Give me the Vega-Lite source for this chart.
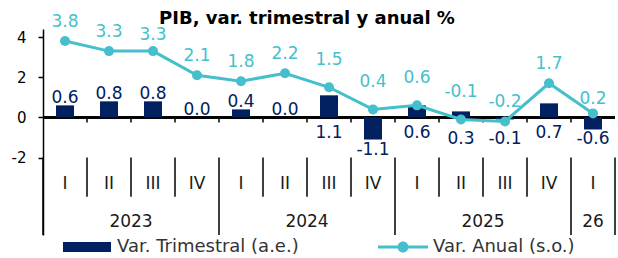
{
  "$schema": "https://vega.github.io/schema/vega-lite/v6.json",
  "width": 572,
  "height": 206,
  "autosize": {"type": "none"},
  "padding": {"left": 43, "top": 29, "right": 3, "bottom": 23},
  "title": {"text": "PIB, var. trimestral y anual %", "anchor": "middle", "frame": "group", "dx": -22, "offset": -29, "baseline": "alphabetic", "fontSize": 18, "fontWeight": "bold", "font": "DejaVu Sans", "color": "#000"},
  "config": {
    "view": {"stroke": null},
    "font": "DejaVu Sans",
    "locale": {"number": {"decimal": ".", "thousands": ",", "grouping": [3], "currency": ["$", ""], "minus": "-"}}
  },
  "resolve": {"axis": {"y": "independent"}},
  "data": {"values": [
    {"periodo": "2023-I", "anio": "2023", "q": "I", "trim": 0.6, "anual": 3.8},
    {"periodo": "2023-II", "anio": "2023", "q": "II", "trim": 0.8, "anual": 3.3},
    {"periodo": "2023-III", "anio": "2023", "q": "III", "trim": 0.8, "anual": 3.3},
    {"periodo": "2023-IV", "anio": "2023", "q": "IV", "trim": 0.0, "anual": 2.1},
    {"periodo": "2024-I", "anio": "2024", "q": "I", "trim": 0.4, "anual": 1.8},
    {"periodo": "2024-II", "anio": "2024", "q": "II", "trim": 0.0, "anual": 2.2},
    {"periodo": "2024-III", "anio": "2024", "q": "III", "trim": 1.1, "anual": 1.5},
    {"periodo": "2024-IV", "anio": "2024", "q": "IV", "trim": -1.1, "anual": 0.4},
    {"periodo": "2025-I", "anio": "2025", "q": "I", "trim": 0.6, "anual": 0.6},
    {"periodo": "2025-II", "anio": "2025", "q": "II", "trim": 0.3, "anual": -0.1},
    {"periodo": "2025-III", "anio": "2025", "q": "III", "trim": -0.1, "anual": -0.2},
    {"periodo": "2025-IV", "anio": "2025", "q": "IV", "trim": 0.7, "anual": 1.7},
    {"periodo": "2026-I", "anio": "26", "q": "I", "trim": -0.6, "anual": 0.2}
  ]},
  "layer": [
    {
      "mark": {"type": "rule", "color": "#000", "strokeWidth": 1.5},
      "encoding": {"y": {"datum": 0, "type": "quantitative", "axis": null, "scale": {"domain": [-5.85, 4.4], "nice": false, "zero": false}}}
    },
    {
      "transform": [{"filter": "datum.periodo != '2023-I'"}],
      "mark": {"type": "rule", "color": "#000", "strokeWidth": 1.5},
      "encoding": {
        "x": {"field": "periodo", "type": "ordinal", "bandPosition": 0, "axis": null, "scale": {"domain": ["2023-I","2023-II","2023-III","2023-IV","2024-I","2024-II","2024-III","2024-IV","2025-I","2025-II","2025-III","2025-IV","2026-I"], "paddingInner": 0, "paddingOuter": 0}},
        "y": {"datum": 0, "type": "quantitative", "axis": null, "scale": {"domain": [-5.85, 4.4], "nice": false, "zero": false}},
        "y2": {"datum": -0.25}
      }
    },
    {
      "transform": [{"filter": "datum.q != 'I'"}],
      "mark": {"type": "rule", "color": "#000", "strokeWidth": 1.5},
      "encoding": {
        "x": {"field": "periodo", "type": "ordinal", "bandPosition": 0, "axis": null, "scale": {"domain": ["2023-I","2023-II","2023-III","2023-IV","2024-I","2024-II","2024-III","2024-IV","2025-I","2025-II","2025-III","2025-IV","2026-I"], "paddingInner": 0, "paddingOuter": 0}},
        "y": {"datum": -2, "type": "quantitative", "axis": null, "scale": {"domain": [-5.85, 4.4], "nice": false, "zero": false}},
        "y2": {"datum": -3.95}
      }
    },
    {
      "transform": [{"filter": "datum.q == 'I'"}],
      "mark": {"type": "rule", "color": "#000", "strokeWidth": 1.5},
      "encoding": {
        "x": {"field": "periodo", "type": "ordinal", "bandPosition": 0, "axis": null, "scale": {"domain": ["2023-I","2023-II","2023-III","2023-IV","2024-I","2024-II","2024-III","2024-IV","2025-I","2025-II","2025-III","2025-IV","2026-I"], "paddingInner": 0, "paddingOuter": 0}},
        "y": {"datum": -2, "type": "quantitative", "axis": null, "scale": {"domain": [-5.85, 4.4], "nice": false, "zero": false}},
        "y2": {"datum": -5.85}
      }
    },
    {
      "transform": [{"filter": "datum.periodo == '2026-I'"}],
      "mark": {"type": "rule", "color": "#000", "strokeWidth": 1.5},
      "encoding": {
        "x": {"field": "periodo", "type": "ordinal", "bandPosition": 1, "axis": null, "scale": {"domain": ["2023-I","2023-II","2023-III","2023-IV","2024-I","2024-II","2024-III","2024-IV","2025-I","2025-II","2025-III","2025-IV","2026-I"], "paddingInner": 0, "paddingOuter": 0}},
        "y": {"datum": -2, "type": "quantitative", "axis": null, "scale": {"domain": [-5.85, 4.4], "nice": false, "zero": false}},
        "y2": {"datum": -5.85}
      }
    },
    {
      "mark": {"type": "text", "fontSize": 17, "color": "#1a1a1a", "baseline": "middle"},
      "encoding": {
        "x": {"field": "periodo", "type": "ordinal", "axis": null, "scale": {"domain": ["2023-I","2023-II","2023-III","2023-IV","2024-I","2024-II","2024-III","2024-IV","2025-I","2025-II","2025-III","2025-IV","2026-I"], "paddingInner": 0, "paddingOuter": 0}},
        "y": {"datum": -3.3, "type": "quantitative", "axis": null, "scale": {"domain": [-5.85, 4.4], "nice": false, "zero": false}},
        "text": {"field": "q"}
      }
    },
    {
      "transform": [{"filter": "datum.q == 'III'"}],
      "mark": {"type": "text", "fontSize": 17, "color": "#1a1a1a", "baseline": "middle"},
      "encoding": {
        "x": {"field": "periodo", "type": "ordinal", "bandPosition": 0, "axis": null, "scale": {"domain": ["2023-I","2023-II","2023-III","2023-IV","2024-I","2024-II","2024-III","2024-IV","2025-I","2025-II","2025-III","2025-IV","2026-I"], "paddingInner": 0, "paddingOuter": 0}},
        "y": {"datum": -5.2, "type": "quantitative", "axis": null, "scale": {"domain": [-5.85, 4.4], "nice": false, "zero": false}},
        "text": {"field": "anio"}
      }
    },
    {
      "transform": [{"filter": "datum.anio == '26'"}],
      "mark": {"type": "text", "fontSize": 17, "color": "#1a1a1a", "baseline": "middle"},
      "encoding": {
        "x": {"field": "periodo", "type": "ordinal", "axis": null, "scale": {"domain": ["2023-I","2023-II","2023-III","2023-IV","2024-I","2024-II","2024-III","2024-IV","2025-I","2025-II","2025-III","2025-IV","2026-I"], "paddingInner": 0, "paddingOuter": 0}},
        "y": {"datum": -5.2, "type": "quantitative", "axis": null, "scale": {"domain": [-5.85, 4.4], "nice": false, "zero": false}},
        "text": {"field": "anio"}
      }
    },
    {
      "mark": {"type": "bar", "color": "#002060", "width": 18},
      "encoding": {
        "x": {"field": "periodo", "type": "ordinal", "axis": null, "scale": {"domain": ["2023-I","2023-II","2023-III","2023-IV","2024-I","2024-II","2024-III","2024-IV","2025-I","2025-II","2025-III","2025-IV","2026-I"], "paddingInner": 0, "paddingOuter": 0}},
        "y": {"field": "trim", "type": "quantitative", "scale": {"domain": [-5.85, 4.4], "nice": false, "zero": false},
          "axis": {"orient": "left", "values": [-2, 0, 2, 4], "title": null, "grid": false, "domain": true, "domainColor": "#000", "domainWidth": 1.5, "ticks": true, "tickColor": "#000", "tickWidth": 1.5, "tickSize": 5, "labelFontSize": 15, "labelColor": "#000", "labelPadding": 12, "labelFont": "DejaVu Sans"}}
      }
    },
    {
      "mark": {"type": "line", "color": "#45BFCC", "strokeWidth": 3, "point": {"filled": true, "size": 100, "color": "#45BFCC", "opacity": 1}},
      "encoding": {
        "x": {"field": "periodo", "type": "ordinal", "axis": null, "scale": {"domain": ["2023-I","2023-II","2023-III","2023-IV","2024-I","2024-II","2024-III","2024-IV","2025-I","2025-II","2025-III","2025-IV","2026-I"], "paddingInner": 0, "paddingOuter": 0}},
        "y": {"field": "anual", "type": "quantitative", "axis": null, "scale": {"domain": [-5.85, 4.4], "nice": false, "zero": false}}
      }
    },
    {
      "transform": [{"filter": {"not": {"field": "periodo", "oneOf": ["2023-III", "2024-III", "2024-IV", "2025-I", "2025-II", "2026-I"]}}}],
      "mark": {"type": "text", "fontSize": 17, "color": "#45BFCC", "baseline": "middle", "dy": -19},
      "encoding": {
        "x": {"field": "periodo", "type": "ordinal", "axis": null, "scale": {"domain": ["2023-I","2023-II","2023-III","2023-IV","2024-I","2024-II","2024-III","2024-IV","2025-I","2025-II","2025-III","2025-IV","2026-I"], "paddingInner": 0, "paddingOuter": 0}},
        "y": {"field": "anual", "type": "quantitative", "axis": null, "scale": {"domain": [-5.85, 4.4], "nice": false, "zero": false}},
        "text": {"field": "anual", "type": "quantitative", "format": ".1f"}
      }
    },
    {
      "transform": [{"filter": {"field": "periodo", "oneOf": ["2023-III"]}}],
      "mark": {"type": "text", "fontSize": 17, "color": "#45BFCC", "baseline": "middle", "dy": -16},
      "encoding": {
        "x": {"field": "periodo", "type": "ordinal", "axis": null, "scale": {"domain": ["2023-I","2023-II","2023-III","2023-IV","2024-I","2024-II","2024-III","2024-IV","2025-I","2025-II","2025-III","2025-IV","2026-I"], "paddingInner": 0, "paddingOuter": 0}},
        "y": {"field": "anual", "type": "quantitative", "axis": null, "scale": {"domain": [-5.85, 4.4], "nice": false, "zero": false}},
        "text": {"field": "anual", "type": "quantitative", "format": ".1f"}
      }
    },
    {
      "transform": [{"filter": {"field": "periodo", "oneOf": ["2024-III", "2024-IV", "2025-I", "2025-II"]}}],
      "mark": {"type": "text", "fontSize": 17, "color": "#45BFCC", "baseline": "middle", "dy": -27},
      "encoding": {
        "x": {"field": "periodo", "type": "ordinal", "axis": null, "scale": {"domain": ["2023-I","2023-II","2023-III","2023-IV","2024-I","2024-II","2024-III","2024-IV","2025-I","2025-II","2025-III","2025-IV","2026-I"], "paddingInner": 0, "paddingOuter": 0}},
        "y": {"field": "anual", "type": "quantitative", "axis": null, "scale": {"domain": [-5.85, 4.4], "nice": false, "zero": false}},
        "text": {"field": "anual", "type": "quantitative", "format": ".1f"}
      }
    },
    {
      "transform": [{"filter": {"field": "periodo", "oneOf": ["2026-I"]}}],
      "mark": {"type": "text", "fontSize": 17, "color": "#45BFCC", "baseline": "middle", "dy": -14},
      "encoding": {
        "x": {"field": "periodo", "type": "ordinal", "axis": null, "scale": {"domain": ["2023-I","2023-II","2023-III","2023-IV","2024-I","2024-II","2024-III","2024-IV","2025-I","2025-II","2025-III","2025-IV","2026-I"], "paddingInner": 0, "paddingOuter": 0}},
        "y": {"field": "anual", "type": "quantitative", "axis": null, "scale": {"domain": [-5.85, 4.4], "nice": false, "zero": false}},
        "text": {"field": "anual", "type": "quantitative", "format": ".1f"}
      }
    },
    {
      "transform": [{"filter": {"field": "periodo", "oneOf": ["2023-I", "2023-II", "2023-III", "2023-IV", "2024-I", "2024-II"]}}],
      "mark": {"type": "text", "fontSize": 17, "color": "#002060", "baseline": "alphabetic", "dy": -2},
      "encoding": {
        "x": {"field": "periodo", "type": "ordinal", "axis": null, "scale": {"domain": ["2023-I","2023-II","2023-III","2023-IV","2024-I","2024-II","2024-III","2024-IV","2025-I","2025-II","2025-III","2025-IV","2026-I"], "paddingInner": 0, "paddingOuter": 0}},
        "y": {"field": "trim", "type": "quantitative", "axis": null, "scale": {"domain": [-5.85, 4.4], "nice": false, "zero": false}},
        "text": {"field": "trim", "type": "quantitative", "format": ".1f"}
      }
    },
    {
      "transform": [{"filter": {"field": "periodo", "oneOf": ["2024-III", "2025-I", "2025-IV"]}}],
      "mark": {"type": "text", "fontSize": 17, "color": "#002060", "baseline": "middle", "dy": 16},
      "encoding": {
        "x": {"field": "periodo", "type": "ordinal", "axis": null, "scale": {"domain": ["2023-I","2023-II","2023-III","2023-IV","2024-I","2024-II","2024-III","2024-IV","2025-I","2025-II","2025-III","2025-IV","2026-I"], "paddingInner": 0, "paddingOuter": 0}},
        "y": {"datum": 0, "type": "quantitative", "axis": null, "scale": {"domain": [-5.85, 4.4], "nice": false, "zero": false}},
        "text": {"field": "trim", "type": "quantitative", "format": ".1f"}
      }
    },
    {
      "transform": [{"filter": {"field": "periodo", "oneOf": ["2025-II", "2025-III"]}}],
      "mark": {"type": "text", "fontSize": 17, "color": "#002060", "baseline": "middle", "dy": 22},
      "encoding": {
        "x": {"field": "periodo", "type": "ordinal", "axis": null, "scale": {"domain": ["2023-I","2023-II","2023-III","2023-IV","2024-I","2024-II","2024-III","2024-IV","2025-I","2025-II","2025-III","2025-IV","2026-I"], "paddingInner": 0, "paddingOuter": 0}},
        "y": {"datum": 0, "type": "quantitative", "axis": null, "scale": {"domain": [-5.85, 4.4], "nice": false, "zero": false}},
        "text": {"field": "trim", "type": "quantitative", "format": ".1f"}
      }
    },
    {
      "transform": [{"filter": {"field": "periodo", "oneOf": ["2024-IV", "2026-I"]}}],
      "mark": {"type": "text", "fontSize": 17, "color": "#002060", "baseline": "middle", "dy": 10},
      "encoding": {
        "x": {"field": "periodo", "type": "ordinal", "axis": null, "scale": {"domain": ["2023-I","2023-II","2023-III","2023-IV","2024-I","2024-II","2024-III","2024-IV","2025-I","2025-II","2025-III","2025-IV","2026-I"], "paddingInner": 0, "paddingOuter": 0}},
        "y": {"field": "trim", "type": "quantitative", "axis": null, "scale": {"domain": [-5.85, 4.4], "nice": false, "zero": false}},
        "text": {"field": "trim", "type": "quantitative", "format": ".1f"}
      }
    },
    {
      "transform": [{"fold": ["trim", "anual"], "as": ["serie", "val"]}],
      "mark": {"type": "point", "filled": true, "size": 0, "opacity": 1},
      "encoding": {
        "x": {"field": "periodo", "type": "ordinal", "axis": null, "scale": {"domain": ["2023-I","2023-II","2023-III","2023-IV","2024-I","2024-II","2024-III","2024-IV","2025-I","2025-II","2025-III","2025-IV","2026-I"], "paddingInner": 0, "paddingOuter": 0}},
        "y": {"field": "val", "type": "quantitative", "axis": null, "scale": {"domain": [-5.85, 4.4], "nice": false, "zero": false}},
        "color": {"field": "serie", "type": "nominal", "scale": {"domain": ["trim", "anual"], "range": ["#002060", "#45BFCC"]},
          "legend": {"orient": "none", "legendX": 19, "legendY": 193, "direction": "horizontal", "columns": 2, "title": null, "padding": 0, "columnPadding": 79, "labelOffset": 5, "labelLimit": 400, "labelFont": "DejaVu Sans", "labelFontSize": 18, "labelColor": "#333", "symbolSize": 2500, "symbolOpacity": 1, "symbolStrokeWidth": 0,
            "labelExpr": "datum.value == 'trim' ? 'Var. Trimestral (a.e.)' : 'Var. Anual (s.o.)'"}},
        "shape": {"field": "serie", "type": "nominal", "scale": {"domain": ["trim", "anual"], "range": ["M-0.96,-0.2L0.96,-0.2L0.96,0.2L-0.96,0.2Z", "M-1,-0.06L1,-0.06L1,0.06L-1,0.06Z M0.22,0C0.22,0.1215 0.1215,0.22 0,0.22C-0.1215,0.22 -0.22,0.1215 -0.22,0C-0.22,-0.1215 -0.1215,-0.22 0,-0.22C0.1215,-0.22 0.22,-0.1215 0.22,0Z"]}}
      }
    }
  ]
}
